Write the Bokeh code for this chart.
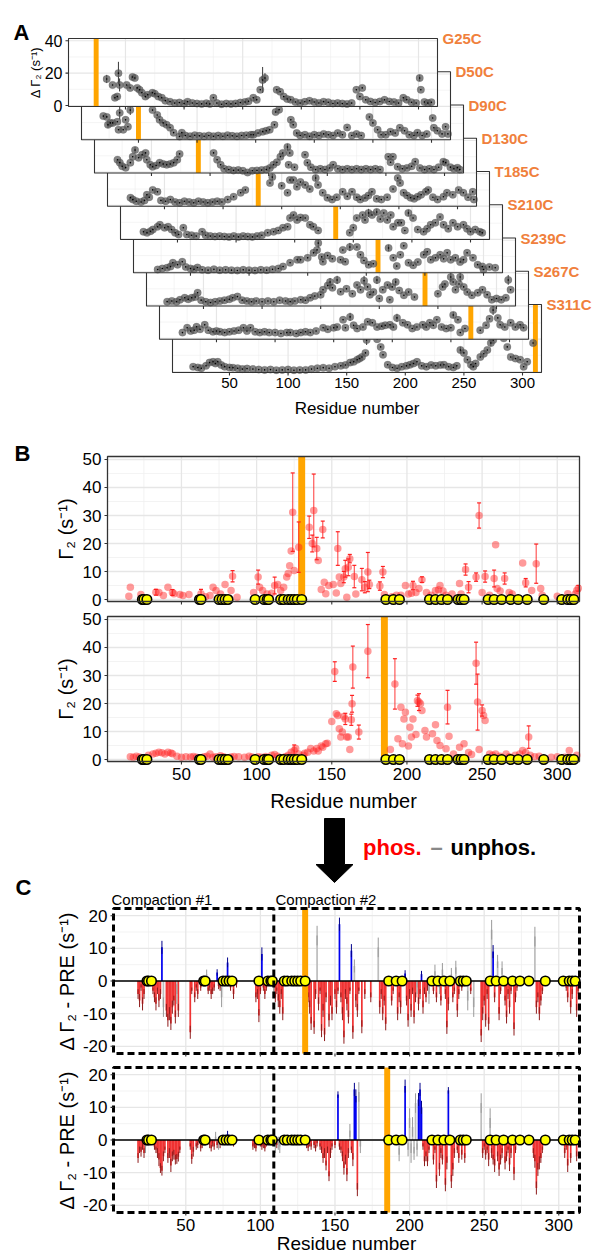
import math
from bokeh.plotting import figure
from bokeh.models import Range1d
from bokeh.core.properties import value
from bokeh.embed import file_html
from bokeh.resources import INLINE

FONT = "Liberation Sans"
TF = value(FONT)

# ------------------------------------------------------------------ data
residue_ticks = [50, 100, 150, 200, 250, 300]
residue_minor = [25, 75, 125, 175, 225, 275]

a_labels = ["G25C", "D50C", "D90C", "D130C", "T185C", "S210C", "S239C", "S267C", "S311C"]
a_sites = [25, 50, 90, 130, 185, 210, 239, 267, 311]
a_yticks = [0, 20, 40]
a_yminor = [10, 30]

g25c = [(34,16.4),(39,12.7),(41,4.8),(43,5.5),(44,20.0),(45,12.7),(51,12.7),(54,10.9),(56,17.6),(58,17.0),(60,10.9),(62,9.7),(64,7.9),(67,5.5),(69,6.7),(73,7.9),(75,7.3),(78,5.5),(81,4.8),(84,3.0),(88,2.4),(92,1.5),(96,1.8),(100,1.2),(103,2.4),(107,1.6),(111,1.2),(115,1.0),(119,1.4),(122,1.0),(125,4.8),(128,1.5),(132,0.8),(136,1.2),(140,1.0),(144,1.3),(148,1.8),(152,2.2),(155,2.6),(159,4.8),(162,3.5),(165,9.7),(167,15.8),(169,17.0),(179,9.7),(182,8.5),(185,5.5),(188,4.0),(191,3.6),(195,2.2),(199,1.5),(203,2.3),(207,3.0),(211,2.2),(215,1.6),(219,2.4),(223,2.0),(227,1.3),(231,1.5),(235,1.2),(239,1.0),(243,1.5),(247,9.7),(250,5.5),(252,10.9),(255,3.5),(259,2.5),(263,1.8),(267,2.5),(271,3.5),(275,2.5),(279,2.2),(283,1.5),(287,4.8),(290,3.6),(294,2.0),(298,1.5),(301,17.0),(302,9.7),(305,2.2),(308,1.5),(311,2.0)]
d50c = [(20,14.0),(23,13.5),(24,8.6),(26,9.8),(28,9.8),(32,10.5),(33,5.6),(34,16.0),(37,5.6),(39,11.7),(41,7.4),(43,17.7),(62,17.7),(66,14.7),(68,11.7),(71,9.8),(74,8.6),(77,6.8),(80,3.8),(85,1.4),(87,3.8),(90,2.0),(94,1.5),(98,2.2),(102,1.8),(106,1.5),(110,2.0),(114,1.5),(118,2.0),(122,1.6),(126,2.2),(130,1.8),(134,1.5),(138,2.0),(142,2.2),(146,2.5),(148,2.5),(152,3.5),(156,4.4),(159,5.0),(162,5.6),(166,8.6),(167,16.5),(170,18.0),(180,11.7),(182,8.6),(185,3.5),(188,2.0),(192,2.5),(196,1.5),(200,2.5),(204,2.0),(208,3.0),(212,2.5),(216,2.0),(220,3.5),(224,2.5),(228,7.0),(232,2.0),(236,3.0),(240,2.0),(247,13.5),(250,9.8),(254,5.6),(257,2.5),(261,2.5),(265,4.4),(269,3.5),(273,6.8),(277,5.0),(281,2.5),(285,2.0),(288,3.8),(292,2.0),(296,3.0),(301,12.8),(302,6.8),(305,5.0),(309,3.0),(312,7.4),(314,3.0)]
d90c = [(21,7.6),(23,5.8),(25,3.5),(28,2.7),(32,5.8),(34,9.4),(36,13.6),(39,8.8),(42,10.6),(45,11.8),(46,7.6),(49,4.5),(51,3.3),(54,4.0),(57,5.8),(60,5.0),(63,4.5),(66,5.0),(69,5.8),(72,7.6),(74,11.2),(103,11.8),(106,7.6),(109,4.5),(112,2.0),(116,1.5),(120,1.0),(124,1.2),(128,0.8),(132,-0.3),(136,0.8),(140,1.0),(144,1.2),(148,1.5),(151,2.5),(154,4.5),(157,6.0),(160,9.4),(162,11.8),(166,15.5),(167,4.5),(168,11.8),(172,3.0),(181,10.6),(183,5.8),(186,3.0),(190,1.5),(194,2.0),(198,1.5),(202,2.5),(205,4.5),(209,2.0),(213,1.5),(217,2.0),(221,1.5),(225,2.0),(229,1.5),(233,2.0),(237,1.5),(241,2.0),(245,1.5),(252,9.4),(254,6.0),(256,9.4),(260,3.3),(264,2.0),(268,2.5),(272,3.5),(275,6.4),(279,2.5),(283,1.5),(287,2.0),(291,1.5),(295,3.0),(299,6.4),(301,5.8),(305,3.0),(308,2.0),(311,2.7),(313,1.5)]
d130c = [(21,4.7),(23,3.5),(26,2.5),(30,2.0),(33,3.0),(35,6.5),(37,5.0),(40,9.5),(44,8.3),(47,3.0),(51,2.5),(55,3.5),(59,2.0),(63,1.5),(67,2.5),(71,2.0),(75,1.5),(79,2.5),(83,2.0),(87,1.5),(91,2.0),(95,2.5),(99,2.0),(104,3.5),(109,5.3),(115,7.7),(119,9.5),(140,13.8),(142,17.4),(150,12.0),(155,7.7),(157,15.6),(160,15.6),(163,11.4),(166,14.4),(170,12.6),(174,10.0),(179,16.8),(181,12.6),(185,7.7),(189,4.7),(193,3.5),(197,5.0),(202,8.3),(206,5.5),(210,8.3),(214,5.0),(217,3.5),(221,4.5),(224,6.0),(227,8.3),(231,4.0),(235,3.5),(240,5.0),(245,10.0),(249,16.8),(251,13.8),(254,7.7),(257,6.0),(260,4.7),(263,4.0),(266,5.3),(269,6.5),(273,8.3),(275,9.5),(279,5.0),(283,3.5),(288,5.3),(291,7.7),(296,6.5),(301,9.5),(305,7.7),(309,5.0),(313,8.3),(314,3.5)]
t185c = [(21,4.2),(24,3.5),(27,4.5),(29,5.5),(33,7.3),(35,8.5),(39,6.7),(42,7.3),(45,5.5),(48,3.5),(51,2.5),(55,6.7),(58,2.5),(62,2.0),(66,1.5),(71,4.2),(74,2.0),(78,1.5),(82,1.2),(86,1.5),(90,1.2),(94,1.0),(98,1.5),(102,1.0),(106,1.5),(110,1.2),(114,1.0),(118,1.5),(122,2.0),(127,3.6),(132,4.2),(136,5.0),(140,6.7),(144,7.3),(146,12.7),(149,14.5),(152,11.5),(155,13.0),(159,12.7),(163,8.5),(166,7.3),(170,5.0),(197,3.6),(200,6.7),(203,12.7),(208,14.5),(210,11.5),(213,15.8),(216,14.5),(220,16.4),(223,12.0),(226,15.8),(229,11.5),(232,14.5),(234,7.3),(238,9.7),(241,9.7),(244,5.0),(247,15.8),(251,12.7),(255,5.5),(260,4.2),(263,6.0),(266,8.5),(270,9.7),(274,13.3),(277,8.5),(281,6.0),(285,9.7),(289,7.3),(294,8.5),(297,6.0),(300,4.2),(304,5.5),(308,4.2),(310,3.5)]
s210c = [(22,1.4),(26,2.0),(30,2.5),(33,3.2),(35,5.6),(39,4.4),(43,6.2),(46,3.0),(50,2.0),(53,1.5),(56,2.6),(60,1.2),(65,1.0),(70,1.5),(75,1.0),(80,1.2),(85,1.0),(90,0.8),(95,1.2),(100,1.0),(105,0.8),(110,1.2),(115,1.0),(120,1.5),(125,2.0),(129,3.2),(135,5.6),(141,7.4),(144,7.4),(150,8.6),(155,11.7),(158,13.5),(159,17.7),(162,9.2),(163,6.2),(167,10.0),(171,8.0),(178,7.4),(180,13.5),(182,6.2),(186,15.3),(192,15.3),(195,10.5),(198,7.0),(202,4.4),(206,5.0),(219,14.7),(223,8.6),(226,3.5),(229,10.5),(232,16.0),(236,5.6),(240,4.0),(244,6.0),(249,10.5),(252,12.3),(255,7.4),(259,8.6),(263,10.5),(266,8.0),(269,11.7),(272,7.4),(276,8.6),(280,6.0),(283,7.5),(286,11.7),(291,8.6),(295,4.4),(299,3.2),(300,1.4),(305,3.0),(310,2.5)]
s239c = [(19,2.1),(23,2.5),(27,2.0),(30,3.3),(34,4.5),(37,3.5),(40,4.5),(43,5.0),(45,7.6),(48,3.0),(52,2.0),(56,1.5),(60,2.0),(64,2.5),(68,3.0),(72,3.5),(75,4.5),(79,5.2),(83,3.0),(87,2.5),(91,2.0),(95,2.5),(100,2.0),(105,2.5),(110,2.0),(115,3.0),(120,2.5),(124,2.1),(128,2.5),(133,3.3),(137,3.0),(141,4.5),(145,5.5),(150,6.4),(152,9.4),(156,12.0),(158,14.2),(160,10.6),(164,15.5),(167,8.2),(172,10.0),(177,7.0),(181,12.4),(184,9.4),(187,15.0),(190,11.2),(192,6.4),(195,8.0),(198,15.5),(200,4.0),(203,9.4),(207,12.4),(209,3.3),(211,11.2),(214,14.2),(217,9.0),(221,6.0),(225,8.0),(230,5.0),(250,7.0),(254,11.2),(256,13.0),(261,17.3),(263,14.2),(265,9.4),(268,13.0),(269,17.3),(272,11.2),(275,8.0),(279,6.0),(284,7.6),(288,9.4),(292,6.4),(296,3.3),(300,4.0),(304,3.3),(308,4.5),(310,15.5),(312,9.4)]
s267c = [(21,3.5),(25,6.5),(28,4.5),(31,5.0),(33,7.1),(36,5.5),(40,8.3),(43,5.0),(47,4.0),(50,4.5),(53,4.1),(57,3.5),(61,4.0),(65,4.5),(69,5.0),(73,6.5),(76,4.5),(79,6.5),(83,4.0),(87,3.5),(91,4.0),(95,3.5),(100,3.5),(105,3.0),(110,3.5),(113,3.5),(118,3.0),(122,3.5),(126,4.0),(130,3.5),(135,4.5),(141,6.5),(145,5.5),(150,6.5),(153,7.0),(158,11.4),(160,6.5),(164,13.2),(167,8.0),(170,6.0),(175,7.0),(179,10.2),(183,9.6),(187,7.0),(191,7.5),(194,8.0),(198,8.3),(201,7.0),(204,12.6),(209,9.6),(213,8.3),(217,6.0),(221,7.0),(226,8.3),(229,7.0),(232,9.6),(235,8.0),(238,11.4),(242,7.0),(246,6.0),(250,6.5),(252,14.4),(256,11.4),(258,3.5),(262,6.0),(275,5.0),(280,8.0),(283,12.0),(286,17.4),(290,12.6),(292,8.3),(296,7.0),(301,9.6),(305,7.0),(309,8.3),(312,6.5)]
s311c = [(19,3.0),(23,2.5),(26,2.0),(30,3.5),(33,5.5),(36,6.0),(38,5.0),(40,6.0),(43,4.0),(46,3.0),(50,2.5),(53,2.4),(57,2.0),(61,1.5),(65,1.8),(70,1.5),(75,1.2),(80,1.0),(85,1.2),(90,0.8),(95,1.0),(100,1.2),(105,0.8),(110,1.0),(115,1.0),(120,1.5),(125,2.0),(130,2.4),(135,2.0),(140,3.0),(145,3.5),(149,4.0),(153,5.5),(156,6.0),(159,7.3),(161,8.0),(163,9.0),(166,11.5),(167,19.4),(168,24.0),(176,20.0),(179,15.2),(181,10.3),(185,4.2),(189,2.5),(193,2.0),(197,3.0),(201,3.5),(204,4.2),(207,5.0),(210,6.0),(214,3.5),(218,3.0),(222,4.0),(226,3.5),(230,4.0),(233,4.2),(237,3.0),(241,2.5),(244,3.5),(247,13.3),(250,11.5),(253,7.3),(256,4.2),(258,3.0),(260,5.0),(264,9.0),(267,11.0),(270,13.3),(273,17.6),(275,19.4),(279,25.0),(284,20.5),(287,15.2),(290,9.0),(294,8.0),(298,7.3),(301,3.0),(304,6.0),(309,17.6)]

g25c_err = [(34,2.5),(44,7.0),(45,4.0),(167,8.0),(169,3.0),(301,2.0)]
d50c_err = [(34,4.0),(43,3.0),(24,2.0)]
d90c_err = [(36,2.0),(166,2.0)]
d130c_err = [(142,2.0),(179,2.0)]
t185c_err = [(213,2.5),(220,2.0),(247,2.0)]
s210c_err = [(159,3.0),(186,2.5),(219,2.0)]
s239c_err = [(158,2.5),(164,2.5),(187,3.0),(198,2.5),(214,2.0),(261,3.0),(269,3.0),(310,3.0)]
s267c_err = [(164,2.5),(204,2.5),(252,2.0),(286,3.0)]
s311c_err = [(167,3.0),(247,2.0),(273,2.0)]

a_points = [g25c, d50c, d90c, d130c, t185c, s210c, s239c, s267c, s311c]
a_errors = [g25c_err, d50c_err, d90c_err, d130c_err, t185c_err, s210c_err, s239c_err, s267c_err, s311c_err]

# residues without data (yellow circles), panels B and C
yellow_res = [24, 25, 27, 62, 63, 75, 77, 79, 81, 99, 105, 107, 108, 116, 118, 121, 123, 125, 127, 130,
              186, 191, 195, 215, 219, 223, 227, 234, 236, 238, 254, 258, 263, 269, 274, 280, 291,
              303, 307, 309, 311]

b_sites = [130, 185]
b_yticks = [0, 10, 20, 30, 40, 50]
b_yminor = [5, 15, 25, 35, 45]
# (residue, Gamma2, error)
b_d130c = [(15,1.2,0),(16,4.4,0),(23,1.8,0),(33,2.6,1.0),(35,2.5,0),(38,1.4,0),(41,4.4,0),(44,2.5,1.0),(45,2.1,0),(49,1.8,0),(51,1.4,0),(55,1.8,0),(63,2.1,1.5),(66,1.0,0),(69,1.4,0),(71,4.4,0),(73,3.2,0),(76,2.0,0),(79,5.4,0),(83,3.2,0),(84,8.3,2.0),(87,0.8,0),(98,2.5,0),(101,8.0,2.5),(102,4.4,0),(104,3.2,0),(107,2.0,0),(110,2.2,0),(112,5.0,3.0),(114,5.4,0),(116,3.2,0),(118,4.4,0),(120,8.0,0),(121,9.3,0),(122,12.1,0),(123,17.3,0),(124,31.2,14.0),(125,10.4,0),(128,18.7,9.0),(135,25.8,4.0),(137,20.0,3.0),(138,31.8,13.0),(140,18.2,4.0),(141,13.9,0),(143,3.6,0),(144,25.0,3.0),(145,6.2,0),(146,2.1,0),(148,5.0,0),(151,5.4,0),(153,2.3,0),(154,18.2,6.0),(155,8.0,0),(156,5.7,0),(158,8.0,2.0),(159,11.0,3.0),(160,0.8,0),(161,11.5,3.0),(162,14.6,1.5),(165,8.2,4.0),(166,2.0,0),(170,7.1,4.0),(172,4.4,2.0),(174,9.8,7.0),(175,5.4,1.5),(182,4.8,1.5),(184,9.8,2.0),(185,1.8,0),(190,1.0,0),(193,1.5,0),(196,1.5,0),(199,5.0,0),(201,2.0,0),(203,2.2,0),(204,5.0,1.5),(206,2.5,0),(208,3.9,0),(210,7.1,1.0),(213,2.5,0),(216,1.5,0),(219,3.2,0),(221,3.5,0),(222,5.0,0),(224,3.0,0),(226,1.5,0),(230,2.0,0),(235,5.7,0),(236,2.0,0),(239,10.7,2.0),(241,4.4,2.0),(246,8.0,1.5),(248,30.0,4.5),(250,2.5,0),(252,8.2,2.0),(255,1.5,0),(258,7.5,3.0),(259,19.6,0),(260,3.9,0),(262,3.0,0),(265,7.5,2.0),(268,2.5,0),(270,2.0,0),(277,13.0,0),(279,6.0,1.5),(283,3.2,0),(286,12.8,7.0),(289,3.9,0),(290,1.5,0),(300,1.2,0),(307,2.1,0),(312,2.0,0),(313,3.2,0),(314,4.0,1.0)]
b_t185c = [(16,1.0,0),(18,0.8,0),(20,1.2,0),(22,0.9,0),(28,1.5,0),(31,2.0,0),(33,2.2,0),(35,2.6,0),(37,2.4,0),(39,2.0,0),(41,2.6,0),(43,2.3,0),(44,2.1,0),(47,1.2,0),(50,0.8,0),(53,1.0,0),(56,0.9,0),(58,1.1,0),(60,0.8,0),(65,1.0,0),(67,1.2,0),(69,2.0,0),(71,0.8,0),(73,1.0,0),(76,1.3,0),(78,1.0,0),(83,0.9,0),(85,1.1,0),(88,1.0,0),(92,0.8,0),(95,1.2,0),(97,0.9,0),(101,1.0,0),(103,0.8,0),(106,1.1,0),(110,1.5,0),(112,1.8,0),(114,1.2,0),(119,1.0,0),(121,1.5,0),(123,2.6,0),(125,3.2,2.0),(126,3.9,0),(128,2.0,0),(131,1.5,0),(132,2.2,0),(134,2.6,0),(136,3.9,0),(138,3.0,0),(140,3.9,0),(141,3.0,0),(143,4.8,0),(144,4.4,0),(146,5.6,0),(147,5.8,0),(150,13.6,0),(152,31.4,3.5),(153,16.3,0),(154,15.7,0),(155,11.0,0),(156,8.0,0),(157,9.8,0),(158,15.4,0),(159,14.5,2.0),(160,8.0,0),(161,8.0,0),(162,3.6,0),(163,14.2,2.0),(163.5,19.9,3.0),(164,33.0,7.5),(168,9.8,2.5),(174,38.7,9.5),(189,3.6,0),(192,27.0,9.0),(194,7.4,0),(196,18.7,0),(197,5.6,0),(198,14.5,0),(199,16.9,0),(201,4.8,0),(202,11.5,0),(203,8.0,0),(204,14.5,0),(206,8.9,0),(207,21.0,2.0),(208,20.5,3.0),(209,19.9,0),(210,17.5,0),(212,10.4,0),(213,8.0,0),(217,9.2,0),(219,12.4,0),(220,6.8,0),(222,5.0,0),(226,3.8,0),(227,18.7,6.0),(228,8.3,0),(231,2.0,0),(235,4.4,0),(238,5.6,0),(241,2.5,0),(243,1.8,0),(246,34.4,7.5),(247,20.5,10.0),(248,3.6,0),(250,17.5,2.0),(251,15.7,0),(252,13.9,0),(255,2.0,0),(257,1.5,0),(259,2.0,0),(262,1.2,0),(266,2.0,0),(268,1.0,0),(272,1.5,0),(275,2.0,0),(277,3.2,0),(279,2.5,0),(281,8.0,4.0),(282,1.5,0),(285,1.0,0),(288,1.2,0),(296,0.8,0),(300,1.0,0),(305,0.8,0),(308,3.2,0),(313,1.5,0)]

c_sites = [130, 185]
c_yticks = [-20, -10, 0, 10, 20]
c_yminor = [-15, -5, 5, 15]
compaction_boundary = 109
# (residue, delta, error, class)  r = decrease, b = increase, g = not significant
c_d130c = [(18,-4,1.5,'r'),(19,-6,2,'r'),(20,-2,1,'r'),(21,-7,2,'r'),(22,-4,1.5,'r'),(28,-3,1,'r'),(29,-5,1.5,'r'),(30,-7,2,'r'),(31,-3,1,'r'),(32,-6,2,'r'),(33,-4,1.5,'r'),(34,10.3,2,'b'),(35,-8,3,'g'),(37,-9,2,'r'),(38,-12,2,'r'),(39,-10,2,'r'),(40,-13,2,'r'),(41,-8,2,'r'),(42,-6,1.5,'r'),(43,-11,2,'r'),(44,-4,3,'g'),(45,-9,2,'r'),(53,-15.7,2,'r'),(54,-3,1,'r'),(56,-5,1.5,'r'),(57,-2,1,'r'),(58,-4,1.5,'r'),(60,-2,1,'r'),(64,2,1.5,'g'),(65,-3,1,'r'),(66,-2,1,'r'),(67,-4,1.5,'r'),(68,-3,1,'r'),(69,-2,1,'r'),(71,2.6,1,'b'),(72,-1.5,1,'r'),(73,-2,1,'r'),(74,-5,3,'g'),(78,5.7,1.5,'b'),(80,-2,1,'r'),(82,-4,1.5,'r'),(84,-1,1,'r'),(97,-5,1.5,'r'),(98,-4,1.5,'r'),(99,-10.6,2,'r'),(100,-3,1,'r'),(101,8.3,2,'b'),(102,-2,1,'r'),(103,-4,1.5,'r'),(104,-2,1,'r'),(109,-3,2,'g'),(110,-5,1.5,'r'),(111,-3,1,'r'),(112,-6,2,'r'),(113,-8,2,'r'),(114,-4,1.5,'r'),(115,-10,2,'r'),(132,-5,1.5,'r'),(133,-8,2,'r'),(134,-13,2,'r'),(136,-14.2,2,'r'),(137,-4,1.5,'r'),(138,13.9,3,'g'),(139,-7,2,'r'),(140,-3,1,'r'),(141,-15.2,2,'r'),(142,-9,2,'r'),(143,-16.4,2,'r'),(144,-5,1.5,'r'),(146,-12,2,'r'),(147,-6,1.5,'r'),(148,-10,2,'r'),(150,-4,1.5,'r'),(151,-8,2,'r'),(152,-3,1,'r'),(153,17.4,2,'b'),(154,-5,1.5,'r'),(155,-10,2,'r'),(156,-17.2,2,'r'),(157,-4,1.5,'r'),(158,-7,2,'r'),(159,-11,2,'r'),(160,-3,1,'r'),(161,9.3,2,'b'),(162,-15.7,2,'r'),(163,4.6,2,'g'),(164,-6,2,'r'),(165,-9,2,'r'),(166,-3,1,'r'),(168,-14,2,'r'),(170,-4,1.5,'r'),(174,-5,1.5,'r'),(179,10.3,3,'g'),(180,-8,2,'r'),(181,-4,1.5,'r'),(182,-10,2,'r'),(183,-6,1.5,'r'),(184,-13.1,2,'r'),(188,-6,1.5,'r'),(189,-3,1,'r'),(192,-10,2,'r'),(193,-5,1.5,'r'),(194,-8,2,'r'),(197,2.3,1,'b'),(198,-6,1.5,'r'),(199,-12,2,'r'),(200,-4,1.5,'r'),(201,-9,2,'r'),(202,-3,1,'r'),(203,-11,2,'r'),(204,-5,1.5,'r'),(205,-2,2,'g'),(206,-7,2,'r'),(207,-4,1.5,'r'),(208,2.1,1,'b'),(209,-8,2,'r'),(210,-3,1,'r'),(211,-5,1.5,'r'),(212,-2,1,'r'),(213,-4,3,'g'),(216,-3,1,'r'),(217,3,2,'g'),(218,-5,1.5,'r'),(220,-2,2,'g'),(221,-6,1.5,'r'),(222,3.5,2,'g'),(224,-4,1.5,'r'),(225,-14.2,2,'r'),(226,-7,2,'r'),(228,2,2,'g'),(229,-5,1.5,'r'),(230,-3,1,'r'),(231,4.2,2,'g'),(232,-9,2,'r'),(233,-4,1.5,'r'),(235,-2,1,'r'),(239,-6,3,'g'),(241,-3,1,'r'),(243,-8,3,'g'),(248,-16.7,2,'r'),(249,-10,2,'r'),(250,-6,1.5,'r'),(251,-12,2,'r'),(252,-4,1.5,'r'),(253,-13.1,2,'r'),(255,15.7,3,'g'),(256,9,2,'b'),(257,-5,1.5,'r'),(259,6,2,'g'),(260,-10,2,'r'),(261,-3,1,'r'),(262,4,2,'g'),(264,-6,1.5,'r'),(265,-11,2,'r'),(266,-4,1.5,'r'),(267,-8,2,'r'),(268,-3,1,'r'),(270,-14.7,2,'r'),(271,-5,1.5,'r'),(272,-2,1,'r'),(284,13.6,3,'g'),(285,-8,2,'r'),(286,-5,1.5,'r'),(287,-10,2,'r'),(288,-6,1.5,'r'),(289,-3,1,'r'),(305,-2,1,'r'),(306,-5,1.5,'r'),(308,-8,2,'r'),(309,-4,1.5,'r'),(312,-9,2,'r'),(313,-3,1,'r')]
c_t185c = [(18,-5.5,1.5,'r'),(19,-3,1,'r'),(20,-3.6,1.5,'r'),(21,-2,1,'r'),(22,-4,1.5,'r'),(23,-2,2,'g'),(29,-2,1,'r'),(30,-3,1,'r'),(31,-4,1.5,'r'),(32,-6,2,'r'),(33,-8.6,1.5,'r'),(34,-9.4,1.5,'r'),(35,-5,1.5,'r'),(36,-3,1,'r'),(38,-5.5,1.5,'r'),(39,-4,1.5,'r'),(40,-7.8,2,'r'),(41,-5,1.5,'r'),(42,-4.5,1.5,'r'),(43,-6,1.5,'r'),(44,-5.8,1.5,'r'),(45,-5.1,1.5,'r'),(46,-3,1,'r'),(53,-2,1,'r'),(54,-5.8,1.5,'r'),(55,-3.6,1.5,'r'),(57,-2,1,'r'),(58,-1.5,1,'r'),(60,-2.5,1,'r'),(61,-1.5,1,'r'),(66,-1.5,1,'r'),(67,-2.5,1,'r'),(68,-1,1,'r'),(69,-2,1,'r'),(70,1,1.5,'g'),(71,-1.5,1,'r'),(72,-1,2,'g'),(73,-1.5,1,'r'),(78,1.8,1,'b'),(82,-1,1,'r'),(95,-2,1,'r'),(96,-1.5,1,'r'),(97,-2.5,1,'r'),(100,-1,1,'r'),(101,-2,1,'r'),(102,-1.5,1,'r'),(103,-2.5,1,'r'),(104,-1,1,'r'),(110,-2,2,'g'),(111,-1.5,1,'r'),(112,-1,2,'g'),(113,-2,2,'g'),(131,-1.5,1,'r'),(132,-2.4,1,'r'),(133,-1,1,'r'),(134,-2,1,'r'),(136,-1.5,1,'r'),(137,-2.5,1,'r'),(138,-1,1,'r'),(140,-2,1,'r'),(141,-3,1,'r'),(142,-5.5,1.5,'r'),(143,-4,1.5,'r'),(144,-7.8,1.5,'r'),(145,-3,1,'r'),(146,-11.1,1.5,'r'),(147,-4,1.5,'r'),(148,-2,1,'r'),(150,-1.5,1,'r'),(152,13.9,1,'b'),(153,-2,1,'r'),(154,-3,1,'r'),(155,-5,1.5,'r'),(156,-8.6,2,'r'),(157,-6,1.5,'r'),(158,-10.6,2,'r'),(159,-4,1.5,'r'),(160,2.9,2,'g'),(161,-3,1,'r'),(162,-6,2,'r'),(163,15.5,2,'b'),(164,13.5,2,'b'),(165,-15.2,2,'r'),(166,14.7,3,'g'),(167,-2,2,'g'),(193,-4.5,2,'g'),(197,16.5,2,'b'),(199,-3,2,'g'),(200,6.7,3,'g'),(201,-4,3,'g'),(202,4,3,'g'),(203,-4.1,2,'g'),(204,11.3,3,'g'),(205,-3,2,'g'),(206,12.4,2,'b'),(207,15.5,2,'b'),(208,10,2,'b'),(209,-2,1,'r'),(210,-6.5,1.5,'r'),(211,-5,1.5,'r'),(212,-6.5,1.5,'r'),(213,-3,1,'r'),(216,-6,1.5,'r'),(217,-3,1,'r'),(218,-12.7,2,'r'),(220,-9,2,'r'),(221,-4,1.5,'r'),(222,-6,1.5,'r'),(224,-13.7,2,'r'),(225,-7,2,'r'),(226,15.2,1,'b'),(228,-12.7,2,'r'),(229,-9,2,'r'),(230,-4,1.5,'r'),(232,-3,1,'r'),(233,-5.5,1.5,'r'),(235,-4.5,1.5,'r'),(237,-5.5,1.5,'r'),(248,11.3,3,'g'),(249,-4,1.5,'r'),(250,-2,1,'r'),(251,-4.5,1.5,'r'),(252,-3,1,'r'),(253,-6,2,'r'),(254,6.7,3,'g'),(255,-4,1.5,'r'),(256,-6,1.5,'r'),(257,-7.8,2,'r'),(259,-5,1.5,'r'),(260,-9,2,'r'),(261,-6,1.5,'r'),(262,-4,1.5,'r'),(264,-7,2,'r'),(265,-5,1.5,'r'),(266,-3,1,'r'),(267,-7.5,2,'r'),(268,-4,1.5,'r'),(270,-10.3,2,'r'),(271,-3,1,'r'),(283,-4,1.5,'r'),(284,-6.5,2,'r'),(285,-14.7,2,'r'),(286,-9,2,'r'),(287,-7,2,'r'),(288,-5.5,1.5,'r'),(289,-3,1,'r'),(304,-4,1.5,'r'),(305,-2,1,'r'),(306,-7.8,2,'r'),(308,-5.5,1.5,'r'),(312,-5,1.5,'r')]

bar_fill = {'r': "#F03232", 'b': "#0000F0", 'g': "#BDBDBD"}
bar_whisker = {'r': "#8E1B1B", 'b': "#00008B", 'g': "#9A9A9A"}

# ------------------------------------------------------------------ canvas / layout constants
W, H = 592, 1255
ORANGE = "#FFA500"
LABEL_ORANGE = "#F0803C"
GRID_MAJ = "#E6E6E6"
GRID_MIN = "#EEEEEE"

A_L0, A_T0, A_DX, A_DY, A_W, A_H = 68, 38, 13, 33.25, 369, 68
A_X = (1.4, 316.2)
A_Y = (-0.6, 41.4)
B_X = (0.8, 314.8)
B_Y = (-0.71, 51.07)
C_X = (1.54, 313.9)
C_Y = (-22.2, 22.2)
B1_BOX = (107, 456, 472, 145)
B2_BOX = (107, 616, 472, 145)
C1_BOX = (113, 908, 466, 145)
C2_BOX = (113, 1067, 466, 145)

p = figure(width=W, height=H, x_range=Range1d(0, W), y_range=Range1d(H, 0),
           output_backend="svg", toolbar_location=None, min_border=0,
           x_axis_location=None, y_axis_location=None, outline_line_color=None)
p.grid.visible = False
p.background_fill_color = "white"
p.border_fill_color = "white"

XR, YR = {}, {}
SCALE = {}


def add_panel_ranges(name, xlim, ylim, box):
    left, top, width, height = box
    sx = (xlim[1] - xlim[0]) / width
    sy = (ylim[1] - ylim[0]) / height
    x0 = xlim[0] - left * sx
    y0 = ylim[0] - (H - (top + height)) * sy
    XR[name] = Range1d(x0, x0 + W * sx)
    YR[name] = Range1d(y0, y0 + H * sy)
    SCALE[name] = (sx, sy)


for i in range(9):
    add_panel_ranges(f"a{i}", A_X, A_Y, (A_L0 + i * A_DX, A_T0 + i * A_DY, A_W, A_H))
add_panel_ranges("b1", B_X, B_Y, B1_BOX)
add_panel_ranges("b2", B_X, B_Y, B2_BOX)
add_panel_ranges("c1", C_X, C_Y, C1_BOX)
add_panel_ranges("c2", C_X, C_Y, C2_BOX)
p.extra_x_ranges = XR
p.extra_y_ranges = YR


def txt(x, y, s, size, color="black", bold=False, align="left", baseline="alphabetic",
        angle=0, xo=0, yo=0, **kw):
    p.text(x=[x], y=[y], text=[s], text_font=TF, text_font_size=f"{size}px",
           text_font_style="bold" if bold else "normal", text_color=color,
           text_align=align, text_baseline=baseline, angle=angle, x_offset=xo, y_offset=yo, **kw)


def grid(kw, xlim, ylim, yt, ym, maj_w=1.3, min_w=0.7):
    p.segment(x0=residue_minor, x1=residue_minor, y0=[ylim[0]] * len(residue_minor),
              y1=[ylim[1]] * len(residue_minor), line_color=GRID_MIN, line_width=min_w, **kw)
    p.segment(x0=[xlim[0]] * len(ym), x1=[xlim[1]] * len(ym), y0=ym, y1=ym,
              line_color=GRID_MIN, line_width=min_w, **kw)
    p.segment(x0=residue_ticks, x1=residue_ticks, y0=[ylim[0]] * len(residue_ticks),
              y1=[ylim[1]] * len(residue_ticks), line_color=GRID_MAJ, line_width=maj_w, **kw)
    p.segment(x0=[xlim[0]] * len(yt), x1=[xlim[1]] * len(yt), y0=yt, y1=yt,
              line_color=GRID_MAJ, line_width=maj_w, **kw)


def x_ticks(name, xlim, ylim, kw):
    sx, sy = SCALE[name]
    n = len(residue_ticks)
    p.segment(x0=residue_ticks, x1=residue_ticks, y0=[ylim[0]] * n, y1=[ylim[0] - 3 * sy] * n,
              line_color="#333333", line_width=1.1, **kw)


def y_ticks(name, xlim, yt, kw, size):
    sx, sy = SCALE[name]
    n = len(yt)
    p.segment(x0=[xlim[0]] * n, x1=[xlim[0] - 3 * sx] * n, y0=yt, y1=yt,
              line_color="#333333", line_width=1.1, **kw)
    p.text(x=[xlim[0]] * n, y=yt, text=[str(v) for v in yt], x_offset=-6, text_align="right",
           text_baseline="middle", text_font=TF, text_font_size=f"{size}px", text_color="black", **kw)


def x_labels(xlim, ylim, kw, size, label_size, label_offset, tick_offset=6):
    n = len(residue_ticks)
    p.text(x=residue_ticks, y=[ylim[0]] * n, text=[str(v) for v in residue_ticks], y_offset=tick_offset,
           text_align="center", text_baseline="top", text_font=TF, text_font_size=f"{size}px",
           text_color="black", **kw)
    txt((xlim[0] + xlim[1]) / 2, ylim[0], "Residue number", label_size, align="center",
        baseline="middle", yo=label_offset, **kw)


# ------------------------------------------------------------------ panel A (stacked)
for i in reversed(range(9)):
    name = f"a{i}"
    kw = dict(x_range_name=name, y_range_name=name)
    p.quad(left=[A_X[0]], right=[A_X[1]], bottom=[A_Y[0]], top=[A_Y[1]],
           fill_color="white", line_color=None, **kw)
    grid(kw, A_X, A_Y, a_yticks, a_yminor, maj_w=1.2, min_w=0.6)
    s = a_sites[i]
    p.quad(left=[s - 2.1], right=[s + 2.1], bottom=[A_Y[0]], top=[A_Y[1]],
           fill_color=ORANGE, line_color=None, **kw)
    pts = a_points[i]
    lookup = dict(pts)
    er = a_errors[i]
    ex = [r for r, e in er]
    p.segment(x0=ex, x1=ex, y0=[lookup[r] - e for r, e in er], y1=[lookup[r] + e for r, e in er],
              line_color="#222222", line_width=0.9, **kw)
    rx = [r for r, v in pts]
    ry = [v for r, v in pts]
    p.scatter(x=rx, y=ry, size=7.5, fill_color="#555555", fill_alpha=0.72,
              line_color="#333333", line_alpha=0.3, line_width=0.5, **kw)
    p.scatter(x=rx, y=ry, size=1.6, fill_color="black", line_color=None, **kw)
    x_ticks(name, A_X, A_Y, kw)
    p.quad(left=[A_X[0]], right=[A_X[1]], bottom=[A_Y[0]], top=[A_Y[1]],
           fill_color=None, line_color="#333333", line_width=1.1, **kw)
    txt(A_X[1], A_Y[1], a_labels[i], 15, color=LABEL_ORANGE, bold=True,
        baseline="middle", xo=5, **kw)

kw0 = dict(x_range_name="a0", y_range_name="a0")
y_ticks("a0", A_X, a_yticks, kw0, 16)
kw8 = dict(x_range_name="a8", y_range_name="a8")
x_labels(A_X, A_Y, kw8, 15, 17, 36, tick_offset=5)
txt(A_X[0], (A_Y[0] + A_Y[1]) / 2, "Δ Γ₂ (s⁻¹)", 13, align="center", baseline="middle",
    angle=math.pi / 2, xo=-33, **kw0)


# ------------------------------------------------------------------ panel B
def draw_b(name, data, site, show_x):
    kw = dict(x_range_name=name, y_range_name=name)
    grid(kw, B_X, B_Y, b_yticks, b_yminor)
    p.quad(left=[site - 2.3], right=[site + 2.3], bottom=[B_Y[0]], top=[B_Y[1]],
           fill_color=ORANGE, line_color=None, **kw)
    res = [d[0] for d in data]
    val = [d[1] for d in data]
    er = [d for d in data if d[2] > 0]
    ex = [d[0] for d in er]
    lo = [d[1] - d[2] for d in er]
    hi = [d[1] + d[2] for d in er]
    p.segment(x0=ex, x1=ex, y0=lo, y1=hi, line_color="#FF2020", line_alpha=0.75, line_width=1.2, **kw)
    p.scatter(x=ex, y=lo, marker="dash", size=4, line_color="#FF2020", line_width=1.2, **kw)
    p.scatter(x=ex, y=hi, marker="dash", size=4, line_color="#FF2020", line_width=1.2, **kw)
    p.scatter(x=res, y=val, size=7.5, fill_color="#FF2020", fill_alpha=0.45, line_color=None, **kw)
    p.scatter(x=yellow_res, y=[0] * len(yellow_res), size=9.5, fill_color="#FFFF00",
              line_color="black", line_width=1.6, **kw)
    p.quad(left=[B_X[0]], right=[B_X[1]], bottom=[B_Y[0]], top=[B_Y[1]],
           fill_color=None, line_color="#333333", line_width=1.3, **kw)
    x_ticks(name, B_X, B_Y, kw)
    y_ticks(name, B_X, b_yticks, kw, 17)
    txt(B_X[0], (B_Y[0] + B_Y[1]) / 2, "Γ₂ (s⁻¹)", 20, align="center", baseline="middle",
        angle=math.pi / 2, xo=-42, **kw)
    if show_x:
        x_labels(B_X, B_Y, kw, 17, 20, 39)


draw_b("b1", b_d130c, b_sites[0], False)
draw_b("b2", b_t185c, b_sites[1], True)


# ------------------------------------------------------------------ panel C
def draw_c(name, data, site, show_x):
    kw = dict(x_range_name=name, y_range_name=name)
    grid(kw, C_X, C_Y, c_yticks, c_yminor)
    res = [d[0] for d in data]
    val = [d[1] for d in data]
    p.vbar(x=res, width=1.15, top=val, bottom=0, fill_color=[bar_fill[d[3]] for d in data],
           line_color=None, **kw)
    p.segment(x0=res, x1=res, y0=[d[1] - d[2] for d in data], y1=[d[1] + d[2] for d in data],
              line_color=[bar_whisker[d[3]] for d in data], line_width=1.0, **kw)
    p.quad(left=[site - 2.0], right=[site + 2.0], bottom=[C_Y[0]], top=[C_Y[1]],
           fill_color=ORANGE, line_color=None, **kw)
    p.segment(x0=[C_X[0]], x1=[C_X[1]], y0=[0], y1=[0], line_color="black", line_width=1.3, **kw)
    p.scatter(x=yellow_res, y=[0] * len(yellow_res), size=9.5, fill_color="#FFFF00",
              line_color="black", line_width=1.6, **kw)
    p.segment(x0=[compaction_boundary], x1=[compaction_boundary], y0=[C_Y[0]], y1=[C_Y[1]],
              line_color="black", line_width=3, line_dash="7 4", **kw)
    p.quad(left=[C_X[0]], right=[C_X[1]], bottom=[C_Y[0]], top=[C_Y[1]],
           fill_color=None, line_color="black", line_width=3, line_dash="7 4", **kw)
    x_ticks(name, C_X, C_Y, kw)
    y_ticks(name, C_X, c_yticks, kw, 17)
    txt(C_X[0], (C_Y[0] + C_Y[1]) / 2, "Δ Γ₂ - PRE (s⁻¹)", 20, align="center", baseline="middle",
        angle=math.pi / 2, xo=-47, **kw)
    if show_x:
        x_labels(C_X, C_Y, kw, 17, 19, 31)


draw_c("c1", c_d130c, c_sites[0], False)
draw_c("c2", c_t185c, c_sites[1], True)

# ------------------------------------------------------------------ panel letters, arrow, headers
txt(13, 32, "A", 22, bold=True)
txt(14, 453, "B", 22, bold=True)
txt(15, 887, "C", 22, bold=True)
p.patch(x=[324, 344, 344, 352.5, 334, 315.5, 324], y=[818, 818, 864, 864, 882, 864, 864],
        fill_color="black", line_color="black")
txt(362.5, 846.5, "phos.", 22, color="#FF0000", bold=True)
txt(430, 846.5, "–", 22, color="#888888", bold=True)
txt(450, 846.5, "unphos.", 22, color="black", bold=True)
txt(111, 899, "Compaction #1", 15)
txt(275, 899, "Compaction #2", 15)

open("out.html", "w").write(file_html(p, INLINE))
